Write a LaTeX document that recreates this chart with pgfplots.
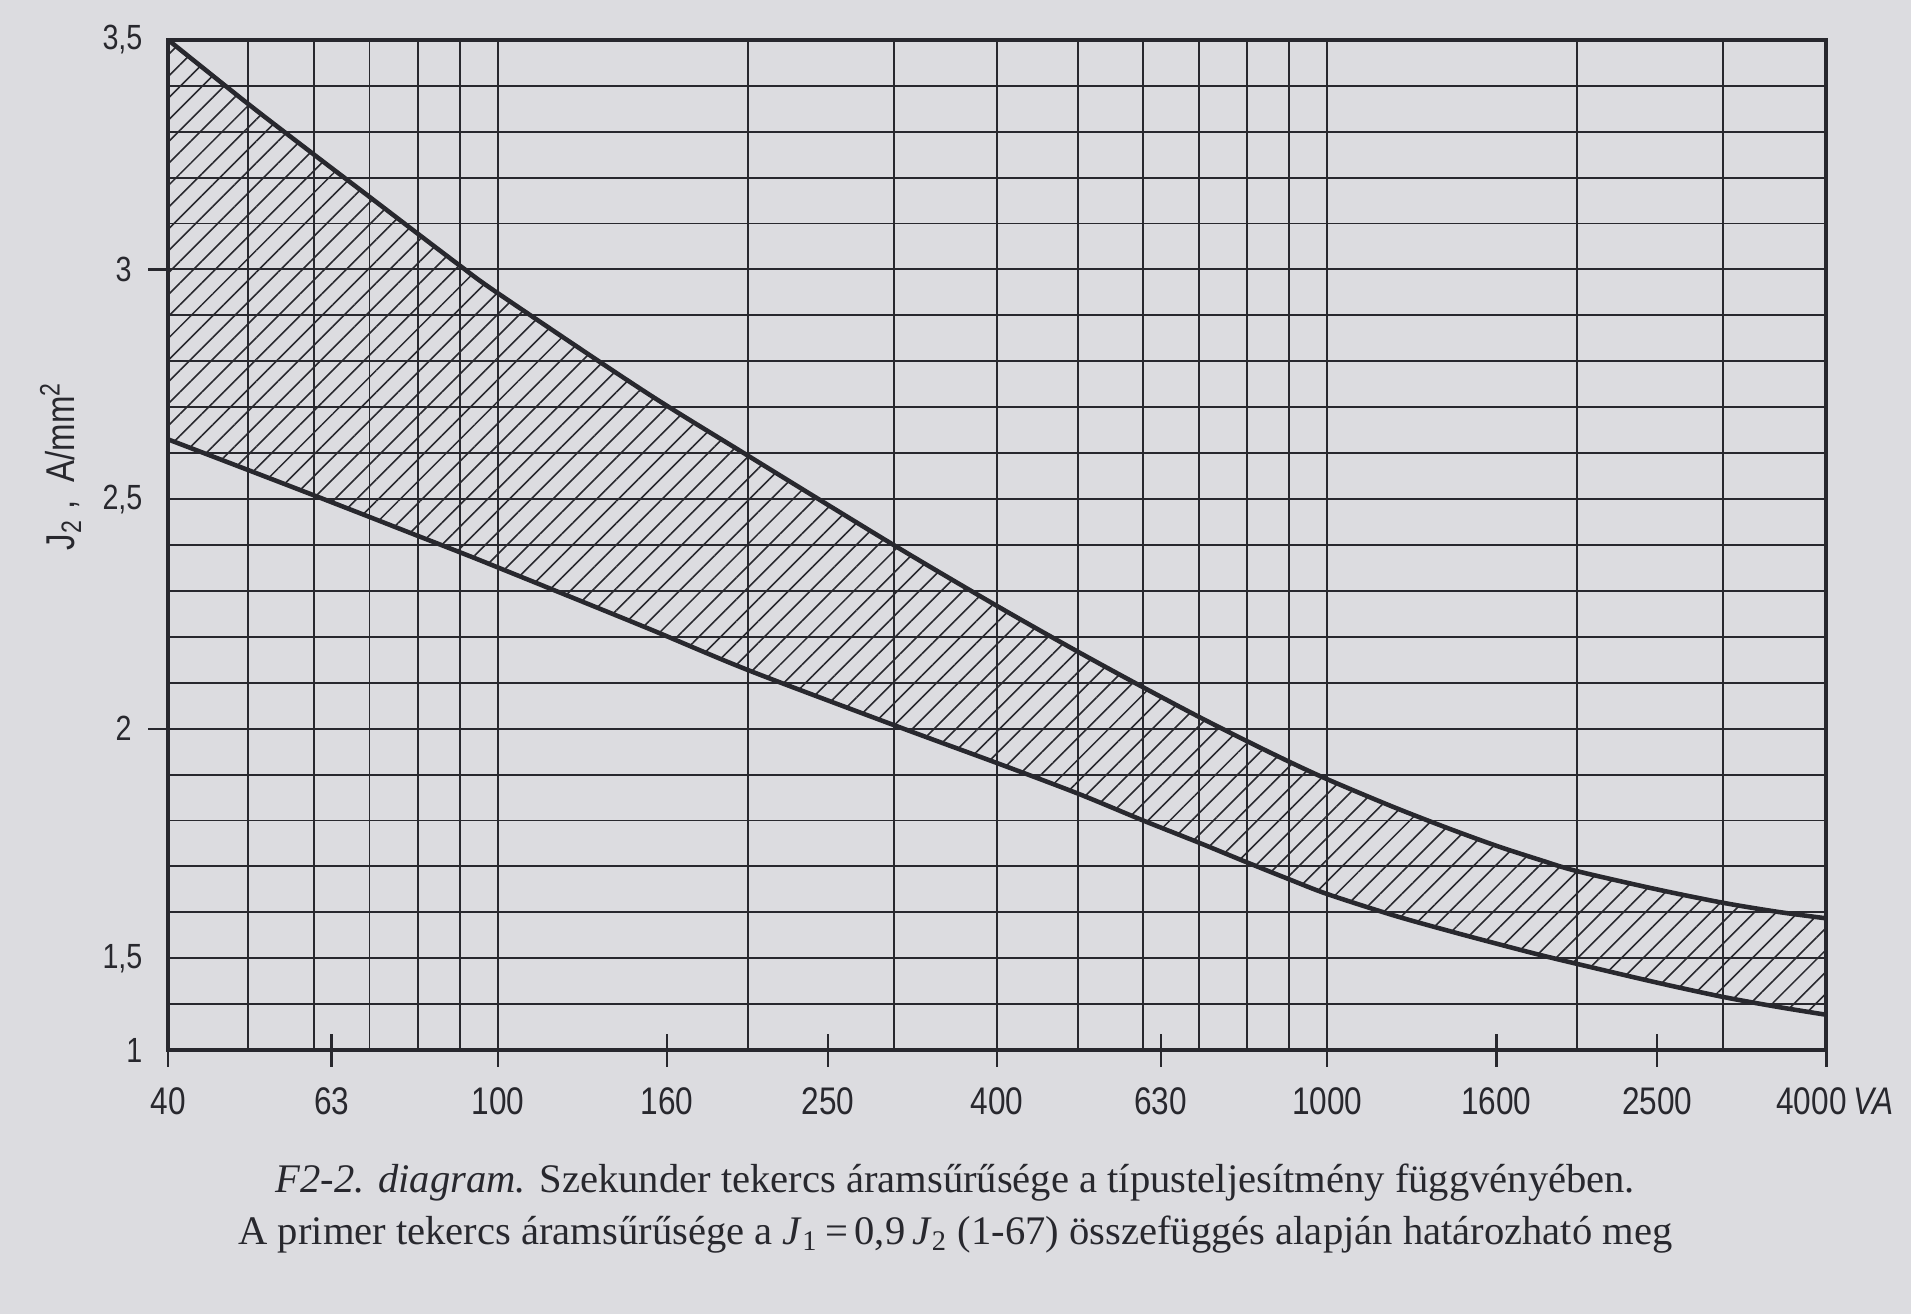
\documentclass[border=0pt]{standalone}
\usepackage{fontspec}
\setmainfont{Liberation Serif}
\newfontfamily\labfont[FakeStretch=0.82]{Liberation Sans}
\usepackage{pgfplots}
\pgfplotsset{compat=1.18}
\usepgfplotslibrary{fillbetween}
\usetikzlibrary{patterns.meta}
\definecolor{paper}{RGB}{220,220,224}
\definecolor{ink}{RGB}{40,40,46}

\pgfplotstableread{
x y
40 3.50
50 3.36
60 3.25
70 3.158
80 3.078
90 3.008
100 2.948
150 2.735
200 2.595
300 2.400
400 2.267
500 2.168
600 2.090
700 2.026
800 1.973
900 1.928
1000 1.890
1200 1.830
1400 1.783
1600 1.745
1800 1.715
2000 1.690
2500 1.650
3000 1.621
3500 1.601
4000 1.587
}\uppertab

\pgfplotstableread{
x y
40 2.630
50 2.563
60 2.508
70 2.461
80 2.420
90 2.384
100 2.351
150 2.222
200 2.128
300 2.008
400 1.925
500 1.859
600 1.800
700 1.752
800 1.709
900 1.672
1000 1.640
1200 1.594
1400 1.560
1600 1.532
1800 1.508
2000 1.488
2500 1.447
3000 1.416
3500 1.394
4000 1.377
}\lowertab

\begin{document}
\pagecolor{paper}
\begin{tikzpicture}
\begin{axis}[
  at={(0,0)}, anchor=south west,
  scale only axis, width=16.66cm, height=10.15cm,
  xmode=log, xmin=40, xmax=4000, ymin=1.3, ymax=3.5,
  axis line style={ink, line width=1.1pt},
  xtick={40,50,60,70,80,90,100,200,300,400,500,600,700,800,900,1000,2000,3000,4000},
  xticklabels={},
  ytick={1.3,1.4,1.5,1.6,1.7,1.8,1.9,2,2.1,2.2,2.3,2.4,2.5,2.6,2.7,2.8,2.9,3,3.1,3.2,3.3,3.4,3.5},
  yticklabels={1,,{1,5},,,,,{2\kern0.11cm},,,,,{2,5},,,,,{3\kern0.11cm},,,,,{3,5}},
  xtick pos=bottom, ytick pos=left,
  major tick length=0pt,
  grid=major,
  major grid style={ink, line width=0.55pt},
  tick style={ink, line width=0.65pt},
  extra x ticks={40,63,100,160,250,400,630,1000,1600,2500,4000},
  extra x tick labels={40,63,100,160,250,400,630,1000,1600,2500,{\hspace*{-0.3cm}4000\rlap{\,\textit{VA}}}},
  extra x tick style={grid=none, major tick length=0.33cm, tick align=center},
  extra y ticks={2,3},
  extra y tick labels={},
  extra y tick style={grid=none, major tick length=0.2cm, tick align=outside},
  xticklabel style={font=\labfont\fontsize{11}{12}\selectfont, text=ink, anchor=north, inner sep=0pt, yshift=-0.2cm},
  yticklabel style={font=\labfont\fontsize{10}{11}\selectfont, text=ink, anchor=east, inner sep=0pt, xshift=-0.25cm},
]
\addplot[name path=U, ink, line width=1.3pt, smooth, tension=0.5] table[x=x, y=y] {\uppertab};
\addplot[name path=L, ink, line width=1.3pt, smooth, tension=0.5] table[x=x, y=y] {\lowertab};
\addplot[draw=none, pattern={Lines[angle=45, distance=0.155cm, line width=0.45pt]}, pattern color=ink] fill between[of=U and L];
\end{axis}
\node[rotate=90, inner sep=0pt, text=ink, font=\labfont\fontsize{11.5}{12}\selectfont] at (-1.08,5.87) {J\textsubscript{2}\ ,\ \ A/mm\textsuperscript{2}};
\node[anchor=base, text=ink, font=\fontsize{11.6}{13}\selectfont] at (7.91,-1.43) {\textit{F2-2. diagram.} Szekunder tekercs áramsűrűsége a típusteljesítmény függvényében.};
\node[anchor=base, text=ink, font=\fontsize{11.6}{13}\selectfont] at (7.91,-1.95) {A primer tekercs áramsűrűsége a \textit{J}\textsubscript{1}\,=\,0,9\,\textit{J}\textsubscript{2} (1-67) összefüggés alapján határozható meg};
\pgfresetboundingbox
\useasboundingbox (-1.6,-2.65) rectangle (17.51,10.55);
\end{tikzpicture}
\end{document}
